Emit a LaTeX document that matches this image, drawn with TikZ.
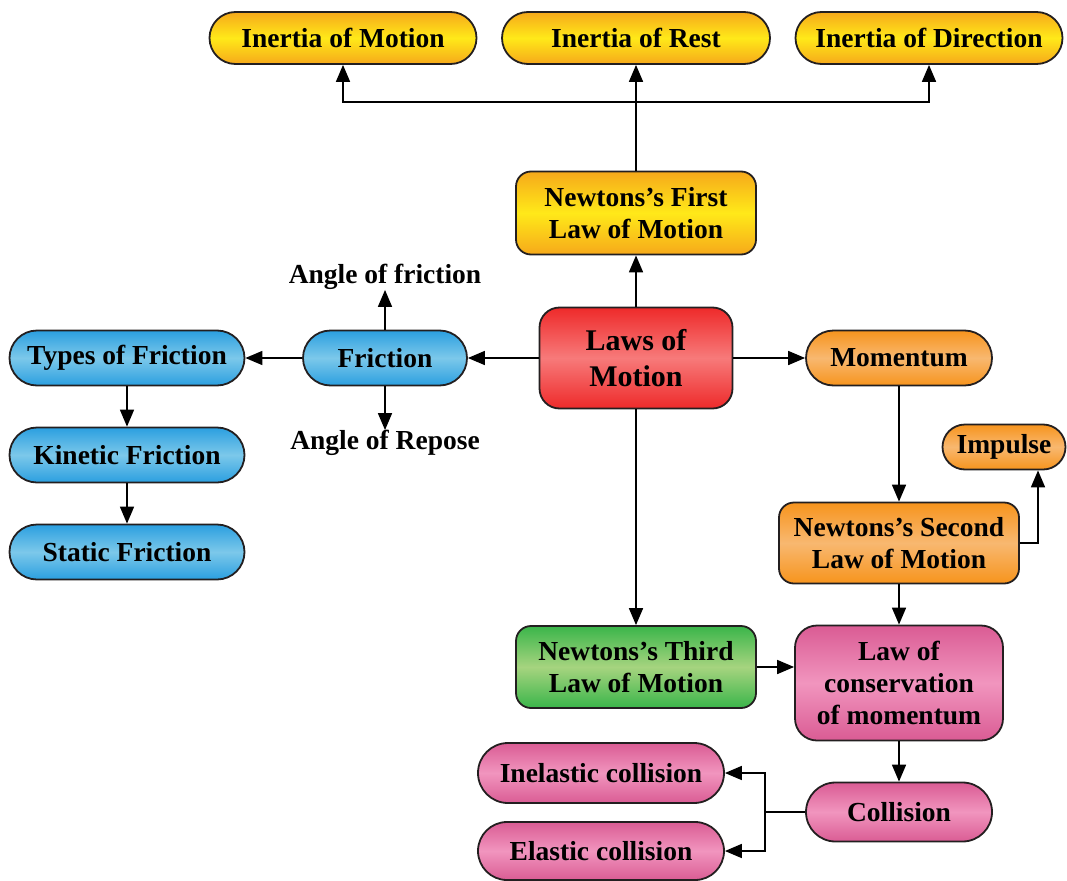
\documentclass[tikz,border=0pt]{standalone}
\usepackage{fontspec}
\setmainfont{Liberation Serif}
\usetikzlibrary{arrows.meta,shapes.misc}

\definecolor{ylwout}{HTML}{F6A91A}
\definecolor{ylwin}{HTML}{FFE919}
\definecolor{redout}{HTML}{EE2A2A}
\definecolor{redin}{HTML}{F77A7A}
\definecolor{bluout}{HTML}{2B9FE0}
\definecolor{bluin}{HTML}{7CC8EA}
\definecolor{orgout}{HTML}{F7941D}
\definecolor{orgin}{HTML}{F8B870}
\definecolor{grnout}{HTML}{3AB54A}
\definecolor{grnin}{HTML}{A6D47F}
\definecolor{pnkout}{HTML}{DA5C94}
\definecolor{pnkin}{HTML}{F195BE}
\definecolor{lawline}{HTML}{231F20}

\begin{document}
\begin{tikzpicture}[
  lawpill/.style={rounded rectangle, draw=lawline, line width=1.8pt, align=center,
                  inner sep=0pt, font=\fontsize{27.5}{32}\selectfont\bfseries},
  lawbox/.style={rectangle, rounded corners=15pt, draw=lawline, line width=1.8pt,
                 align=center, inner sep=0pt, font=\fontsize{27.5}{32}\selectfont\bfseries},
  lawtext/.style={inner sep=1pt, font=\fontsize{27.5}{32}\selectfont\bfseries},
  lawedge/.style={draw, line width=1.7pt, -{Triangle[length=17pt,width=14pt]}},
  lawyellow/.style={top color=ylwout, bottom color=ylwout, middle color=ylwin},
  lawred/.style={top color=redout, bottom color=redout, middle color=redin},
  lawblue/.style={top color=bluout, bottom color=bluout, middle color=bluin},
  laworange/.style={top color=orgout, bottom color=orgout, middle color=orgin},
  lawgreen/.style={top color=grnout, bottom color=grnout, middle color=grnin},
  lawpink/.style={top color=pnkout, bottom color=pnkout, middle color=pnkin},
]
  \useasboundingbox (0pt,0pt) rectangle (1067pt,-880pt);
  \node[lawpill, lawyellow, minimum width=267pt, minimum height=52pt] (motion) at (343pt,-38pt) {Inertia of Motion};
  \node[lawpill, lawyellow, minimum width=268pt, minimum height=52pt] (rest) at (636pt,-38pt) {Inertia of Rest};
  \node[lawpill, lawyellow, minimum width=267pt, minimum height=52pt] (direction) at (929pt,-38pt) {Inertia of Direction};
  \node[lawbox, lawyellow, minimum width=240pt, minimum height=83pt] (first) at (636pt,-213pt) {Newtons’s First\\Law of Motion};
  \node[lawbox, lawred, rounded corners=20pt, minimum width=193pt, minimum height=101pt,
        font=\fontsize{30}{36}\selectfont\bfseries] (laws) at (636pt,-358pt) {Laws of\\Motion};
  \coordinate (jtop) at (636pt,-102pt);
  \draw[lawedge] (first.north) -- (rest.south);
  \draw[lawedge] (jtop) -| (motion.south);
  \draw[lawedge] (jtop) -| (direction.south);
  \draw[lawedge] (laws.north) -- (first.south);
  % friction side
  \node[lawpill, lawblue, minimum width=164pt, minimum height=55pt] (friction) at (385pt,-358pt) {Friction};
  \node[lawpill, lawblue, minimum width=235pt, minimum height=55pt] (types) at (127pt,-358pt) {Types of Friction};
  \node[lawpill, lawblue, minimum width=235pt, minimum height=55pt] (kinetic) at (127pt,-455pt) {Kinetic Friction};
  \node[lawpill, lawblue, minimum width=235pt, minimum height=55pt] (static) at (127pt,-552pt) {Static Friction};
  \node[lawtext] (anglef) at (385pt,-277pt) {Angle of friction};
  \node[lawtext] (angler) at (385pt,-443pt) {Angle of Repose};
  \draw[lawedge] (laws.west) -- (friction.east);
  \draw[lawedge] (friction.west) -- (types.east);
  \draw[lawedge] (friction.north) -- ([yshift=1pt]anglef.south);
  \draw[lawedge] (friction.south) -- ([yshift=-1pt]angler.north);
  \draw[lawedge] (types.south) -- (kinetic.north);
  \draw[lawedge] (kinetic.south) -- (static.north);
  % momentum side
  \node[lawpill, laworange, minimum width=186pt, minimum height=55pt] (momentum) at (899pt,-358pt) {Momentum};
  \node[lawpill, laworange, minimum width=123pt, minimum height=45pt] (impulse) at (1004pt,-447pt) {Impulse};
  \node[lawbox, laworange, minimum width=240pt, minimum height=81pt] (second) at (899pt,-543pt) {Newtons’s Second\\Law of Motion};
  \draw[lawedge] (laws.east) -- (momentum.west);
  \draw[lawedge] (momentum.south) -- (second.north);
  \draw[lawedge] (second.east) -| ([xshift=34pt]impulse.south);
  % third law and conservation
  \node[lawbox, lawgreen, minimum width=240pt, minimum height=82pt] (third) at (636pt,-667pt) {Newtons’s Third\\Law of Motion};
  \node[lawbox, lawpink, rounded corners=22pt, minimum width=208pt, minimum height=115pt] (conserv) at (899pt,-683pt) {Law of\\conservation\\of momentum};
  \node[lawpill, lawpink, minimum width=186pt, minimum height=59pt] (collision) at (899pt,-812pt) {Collision};
  \node[lawpill, lawpink, minimum width=246pt, minimum height=60pt] (inelastic) at (601pt,-773pt) {Inelastic collision};
  \node[lawpill, lawpink, minimum width=246pt, minimum height=58pt] (elastic) at (601pt,-851pt) {Elastic collision};
  \coordinate (jcol) at (765pt,-812pt);
  \draw[lawedge] (laws.south) -- (third.north);
  \draw[lawedge] (third.east) -- (conserv.west |- third.east);
  \draw[lawedge] (second.south) -- (conserv.north);
  \draw[lawedge] (conserv.south) -- (collision.north);
  \draw[line width=1.7pt] (collision.west) -- (jcol);
  \draw[lawedge] (jcol) |- (inelastic.east);
  \draw[lawedge] (jcol) |- (elastic.east);
\end{tikzpicture}
\end{document}
